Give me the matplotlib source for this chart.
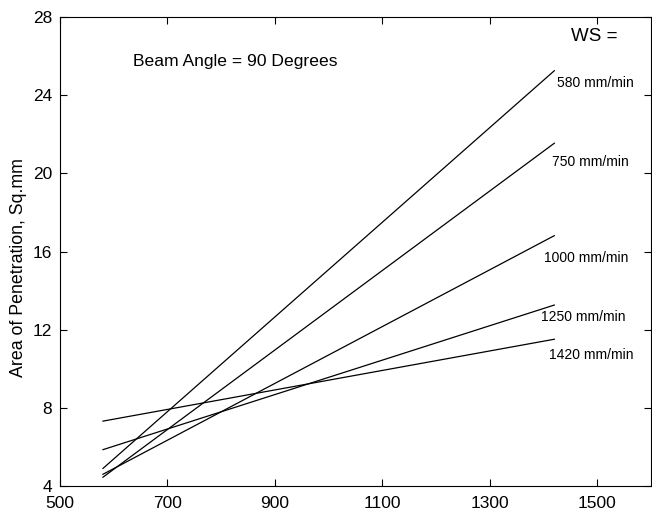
# Area of penetration vs. beam current for several welding speeds

import numpy as np
from matplotlib import pyplot as plt

# Welding speeds (mm/min) and their labels
speeds = [580, 750, 1000, 1250, 1420]
labels = ["580 mm/min", "750 mm/min", "1000 mm/min", "1250 mm/min", "1420 mm/min"]

# Each fitted line goes from x_start to x_end
x_start = 580
x_end = 1420

# Area of penetration at the two ends of each line (Sq.mm)
y_start = [4.90, 4.45, 4.60, 5.86, 7.32]
y_end = [25.25, 21.54, 16.81, 13.26, 11.51]

# Where each label sits (left edge, middle)
label_x = [1425, 1416, 1400, 1395, 1411]
label_y = [24.62, 20.58, 15.67, 12.65, 10.70]

# Axis ticks
x_ticks = [500, 700, 900, 1100, 1300, 1500]
y_ticks = [4, 8, 12, 16, 20, 24, 28]

plt.rcParams['font.family'] = ['Liberation Sans', 'DejaVu Sans']

fig = plt.figure(figsize=(6.52, 5.16), dpi=100)
ax = fig.add_axes([60 / 652, 30 / 516, 591 / 652, 469 / 516])

# Draw the lines
for i in range(len(speeds)):
    ax.plot([x_start, x_end], [y_start[i], y_end[i]], color='black', linewidth=0.9)
    ax.text(label_x[i], label_y[i], labels[i], fontsize=10, ha='left', va='center')

ax.text(1452, 26.98, "WS =", fontsize=13.5, ha='left', va='center')
ax.text(635, 25.7, "Beam Angle = 90 Degrees", fontsize=12.6, ha='left', va='center')

ax.set_xlim(500, 1600)
ax.set_ylim(4, 28)
ax.set_xticks(x_ticks)
ax.set_yticks(y_ticks)

# MATLAB style box with inward ticks on every side
ax.tick_params(direction='in', top=True, right=True, length=5, width=0.8, labelsize=12.5)
ax.tick_params(axis='x', pad=7)
ax.tick_params(axis='y', pad=5.5)
for s in ax.spines.values():
    s.set_linewidth(0.8)

ax.set_ylabel("Area of Penetration, Sq.mm", fontsize=12.8)
ax.yaxis.set_label_coords(-0.056, 0.465)

fig.savefig("out.png", dpi=100)
